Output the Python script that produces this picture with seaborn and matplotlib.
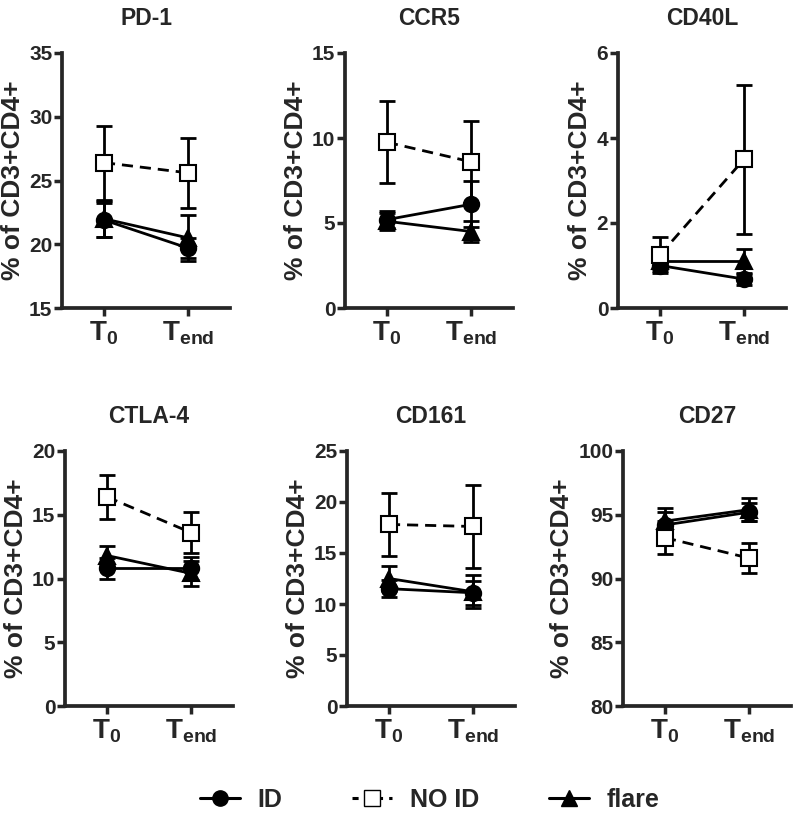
"""
T0 vs Tend surface markers on CD3+CD4+ cells, ID / NO ID / flare groups
"""

import numpy as np
import pandas as pd
import matplotlib
matplotlib.use("Agg")
import matplotlib.pyplot as plt
from matplotlib.lines import Line2D
import seaborn as sns

# panel names and y axis settings
panels = ["PD-1", "CCR5", "CD40L", "CTLA-4", "CD161", "CD27"]
y_limits = [(15, 35), (0, 15), (0, 6), (0, 20), (0, 25), (80, 100)]
y_steps = [5, 5, 2, 5, 5, 5]

groups = ["ID", "NO ID", "flare"]
time_labels = [r"$\mathbf{T_0}$", r"$\mathbf{T_{end}}$"]

# means (T0, Tend) per panel
id_mean = [[21.9, 19.7], [5.2, 6.1], [1.0, 0.68], [10.8, 10.8], [11.5, 11.1], [94.2, 95.2]]
noid_mean = [[26.4, 25.6], [9.75, 8.6], [1.25, 3.5], [16.4, 13.6], [17.8, 17.6], [93.2, 91.6]]
flare_mean = [[22.0, 20.5], [5.1, 4.5], [1.1, 1.1], [11.8, 10.4], [12.5, 11.2], [94.5, 95.4]]

# error bars (SEM)
id_err = [[1.3, 0.8], [0.5, 1.35], [0.12, 0.15], [0.8, 0.9], [0.85, 1.2], [1.0, 0.7]]
noid_err = [[2.9, 2.75], [2.4, 2.4], [0.42, 1.75], [1.7, 1.6], [3.1, 4.1], [1.3, 1.2]]
flare_err = [[1.4, 1.8], [0.5, 0.6], [0.12, 0.3], [0.75, 1.0], [1.2, 1.6], [1.0, 0.9]]

rows = []
for i, p in enumerate(panels):
    for g, m, e in zip(groups, [id_mean, noid_mean, flare_mean], [id_err, noid_err, flare_err]):
        for t in range(2):
            rows.append({"panel": p, "group": g, "time": t, "mean": m[i][t], "sem": e[i][t]})
df = pd.DataFrame(rows)

sns.set_style("ticks")
plt.rcParams["font.family"] = ["Liberation Sans", "DejaVu Sans"]
plt.rcParams["font.weight"] = "bold"
plt.rcParams["mathtext.fontset"] = "custom"
plt.rcParams["mathtext.rm"] = "Liberation Sans:bold"
plt.rcParams["mathtext.bf"] = "Liberation Sans:bold"

W, H = 793, 819
fig = plt.figure(figsize=(W / 100, H / 100), dpi=100)

# axes boxes in pixels: left, top
boxes = [(62, 53), (345, 53), (618, 53), (65, 451), (347, 451), (623, 451)]
ax_w, ax_h = 168, 255

for i, p in enumerate(panels):
    left, top = boxes[i]
    ax = fig.add_axes([left / W, (H - top - ax_h) / H, ax_w / W, ax_h / H])
    sub = df[df["panel"] == p]
    for g in groups:
        d = sub[sub["group"] == g]
        ax.errorbar(d["time"], d["mean"], yerr=d["sem"], fmt="none",
                    ecolor="black", elinewidth=2, capsize=6, capthick=2, zorder=2)
    sns.lineplot(data=sub, x="time", y="mean", hue="group", style="group",
                 palette=["black"] * 3, dashes={"ID": "", "NO ID": (4, 2.5), "flare": ""},
                 markers={"ID": "o", "NO ID": "s", "flare": "^"},
                 linewidth=2, markersize=11, markeredgecolor="black",
                 markeredgewidth=1.5, legend=False, ax=ax, zorder=3)
    # white fill for the NO ID squares
    for line in ax.lines:
        if line.get_marker() == "s":
            line.set_markerfacecolor("white")
            line.set_zorder(4)
    ax.set_xlim(-0.5, 1.5)
    ax.set_ylim(*y_limits[i])
    ax.set_yticks(np.arange(y_limits[i][0], y_limits[i][1] + 0.01, y_steps[i]))
    ax.set_xticks([0, 1])
    ax.set_xticklabels(time_labels)
    ax.tick_params(axis="both", width=2.5, length=6, labelsize=15, pad=1)
    ax.tick_params(axis="x", pad=2, labelsize=20)
    for lab in ax.get_yticklabels():
        lab.set_fontweight("bold")
    sns.despine(ax=ax)
    for s in ["left", "bottom"]:
        ax.spines[s].set_linewidth(2.7)
    ax.set_xlabel("")
    ax.set_ylabel("% of CD3+CD4+", fontsize=19, fontweight="bold", labelpad=3)
    ax.set_title(p, fontsize=16.5, fontweight="bold", pad=20)

handles = [
    Line2D([], [], color="black", lw=2.2, marker="o", ms=11, mfc="black"),
    Line2D([], [], color="black", lw=2.2, ls=(0, (2, 2)), marker="s", ms=12, mfc="white"),
    Line2D([], [], color="black", lw=2.2, marker="^", ms=11, mfc="black"),
]
fig.legend(handles, groups, loc="center", bbox_to_anchor=(0.542, 1 - 800 / H), ncol=3,
           frameon=False, handlelength=1.6, columnspacing=2.8, handletextpad=0.7,
           prop={"size": 18, "weight": "bold"})

fig.savefig("out.png", dpi=100, facecolor="white")
